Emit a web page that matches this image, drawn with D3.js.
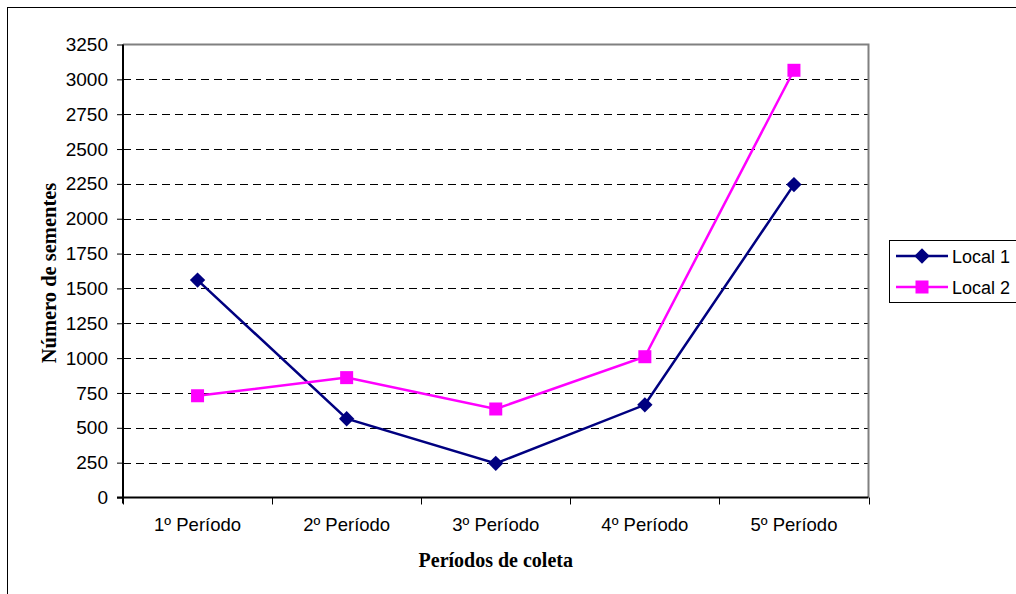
<!DOCTYPE html>
<html>
<head>
<meta charset="utf-8">
<script src="https://cdn.jsdelivr.net/npm/d3@7"></script>
<style>
  html, body { margin: 0; padding: 0; background: #fff; }
  svg { display: block; }
</style>
</head>
<body>
<svg id="chart" width="1016" height="594"></svg>
<script>
// Seed counts per collection period at two sites
const categories = ["1º Período", "2º Período", "3º Período", "4º Período", "5º Período"];
const local1 = [1560, 565, 245, 665, 2245];
const local2 = [730, 860, 635, 1010, 3065];
const yTicks = [0, 250, 500, 750, 1000, 1250, 1500, 1750, 2000, 2250, 2500, 2750, 3000, 3250];
const seriesNames = ["Local 1", "Local 2"];

const svg = d3.select("#chart");
const W = 1016, H = 594;
const plot = { left: 123, right: 868.5, top: 44.5, bottom: 497.5 };
const sans = "'Liberation Sans', Arial, sans-serif";
const serif = "'Liberation Serif', 'Times New Roman', serif";

// outer frame (extends past the window on the right and bottom)
svg.append("rect")
  .attr("x", 7.5).attr("y", 7.5)
  .attr("width", W + 20).attr("height", H + 20)
  .attr("fill", "#fff").attr("stroke", "#000").attr("stroke-width", 1);

const x = d3.scaleBand().domain(categories).range([plot.left, plot.right]);
const y = d3.scaleLinear().domain([0, 3250]).range([plot.bottom, plot.top]);

// gridlines
svg.append("g")
  .selectAll("line")
  .data(yTicks.filter(t => t > 0 && t < 3250))
  .join("line")
  .attr("x1", plot.left).attr("x2", plot.right)
  .attr("y1", d => Math.round(y(d)) + 0.5).attr("y2", d => Math.round(y(d)) + 0.5)
  .attr("stroke", "#000").attr("stroke-width", 1)
  .attr("stroke-dasharray", "8,5");

// top and right plot borders
svg.append("path")
  .attr("d", `M${plot.left},${plot.top}H${plot.right}V${plot.bottom}`)
  .attr("fill", "none").attr("stroke", "#808080").attr("stroke-width", 2);

// y axis
const yAxis = svg.append("g")
  .attr("transform", `translate(${plot.left},0)`)
  .call(d3.axisLeft(y).tickValues(yTicks).tickSize(6).tickPadding(9).tickFormat(d3.format("d")));
yAxis.select(".domain").attr("stroke", "#000").attr("stroke-width", 2)
  .attr("d", `M0,${plot.top}V${plot.bottom + 6}`);
yAxis.selectAll(".tick line").attr("stroke", "#000");
yAxis.selectAll(".tick text")
  .attr("font-family", sans).attr("font-size", 19).attr("fill", "#000");

// x axis
const xAxis = svg.append("g")
  .attr("transform", `translate(0,${plot.bottom})`)
  .call(d3.axisBottom(x).tickSize(0).tickPadding(20));
xAxis.select(".domain").attr("stroke", "#000").attr("stroke-width", 2)
  .attr("d", `M${plot.left - 6},0H${plot.right}`);
xAxis.selectAll(".tick text")
  .attr("font-family", sans).attr("font-size", 18.5).attr("fill", "#000");
// category boundary ticks
svg.append("g")
  .selectAll("line")
  .data(categories.map(c => x(c)).concat([plot.right]))
  .join("line")
  .attr("x1", d => Math.round(d) + 0.5).attr("x2", d => Math.round(d) + 0.5)
  .attr("y1", plot.bottom).attr("y2", plot.bottom + 7)
  .attr("stroke", "#000").attr("stroke-width", 1);

// axis titles
svg.append("text")
  .attr("x", (plot.left + plot.right) / 2).attr("y", 567)
  .attr("text-anchor", "middle")
  .attr("font-family", serif).attr("font-weight", "bold").attr("font-size", 20)
  .text("Períodos de coleta");
svg.append("text")
  .attr("transform", `translate(56,273) rotate(-90)`)
  .attr("text-anchor", "middle")
  .attr("font-family", serif).attr("font-weight", "bold").attr("font-size", 20.5)
  .text("Número de sementes");

// series
const cx = c => x(c) + x.bandwidth() / 2;
const series = [
  { name: seriesNames[0], values: local1, color: "#000080", symbol: "diamond" },
  { name: seriesNames[1], values: local2, color: "#ff00ff", symbol: "square" }
];
const line = d3.line().x((d, i) => cx(categories[i])).y(d => y(d));

function drawMarker(g, s, px, py) {
  if (s.symbol === "diamond") {
    g.append("path")
      .attr("d", d3.symbol(d3.symbolDiamond2, 150)())
      .attr("transform", `translate(${px},${py})`)
      .attr("fill", s.color);
  } else {
    g.append("rect")
      .attr("x", px - 6.5).attr("y", py - 6.5)
      .attr("width", 13).attr("height", 13)
      .attr("fill", s.color);
  }
}

series.forEach(s => {
  const g = svg.append("g");
  g.append("path").datum(s.values)
    .attr("d", line)
    .attr("fill", "none").attr("stroke", s.color).attr("stroke-width", 2.5);
  s.values.forEach((v, i) => drawMarker(g, s, cx(categories[i]), y(v)));
});

// legend
const lg = svg.append("g");
lg.append("rect")
  .attr("x", 889.5).attr("y", 240.5).attr("width", 140).attr("height", 62)
  .attr("fill", "#fff").attr("stroke", "#000").attr("stroke-width", 1);
series.forEach((s, i) => {
  const ly = 256 + i * 31;
  lg.append("line")
    .attr("x1", 896).attr("x2", 948).attr("y1", ly).attr("y2", ly)
    .attr("stroke", s.color).attr("stroke-width", 2.5);
  drawMarker(lg, s, 922, ly);
  lg.append("text")
    .attr("x", 952).attr("y", ly + 6.5)
    .attr("font-family", sans).attr("font-size", 18).attr("fill", "#000")
    .text(s.name);
});
</script>
</body>
</html>
